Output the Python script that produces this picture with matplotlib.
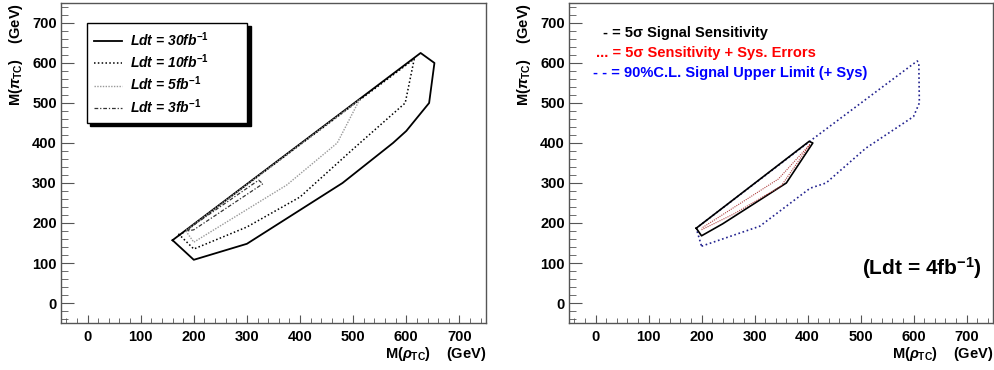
import matplotlib
matplotlib.use('Agg')
import matplotlib.pyplot as plt
from matplotlib.lines import Line2D
from matplotlib.ticker import MultipleLocator

plt.rcParams.update({
    'font.family': ['Liberation Sans', 'DejaVu Sans'],
    'font.weight': 'bold',
    'axes.labelweight': 'bold',
    'mathtext.fontset': 'custom',
    'mathtext.rm': 'Liberation Sans:bold',
    'mathtext.it': 'Liberation Sans:bold:italic',
    'mathtext.bf': 'Liberation Sans:bold',
    'mathtext.sf': 'Liberation Sans:bold',
})

# --- left panel: discovery contours for several luminosities ---
rho_30 = [160, 200, 300, 480, 575, 600, 643, 653, 627, 160]
pi_30 = [157, 108, 148, 300, 400, 430, 500, 600, 625, 157]

rho_10 = [171, 200, 300, 400, 500, 598, 615, 171]
pi_10 = [173, 135, 190, 265, 385, 500, 610, 167]

rho_5 = [185, 200, 375, 470, 512, 185]
pi_5 = [180, 152, 295, 400, 508, 181]

rho_3 = [188, 200, 322, 330, 200, 188]
pi_3 = [180, 195, 307, 298, 183, 180]

lumi_labels = ['Ldt = 30fb$^{-1}$', 'Ldt = 10fb$^{-1}$',
               'Ldt = 5fb$^{-1}$', 'Ldt = 3fb$^{-1}$']

# --- right panel: 4 fb^-1 ---
rho_sig = [190, 200, 240, 360, 410, 403, 190]
pi_sig = [187, 168, 198, 300, 400, 404, 187]

rho_sys = [200, 260, 350, 405, 345, 200]
pi_sys = [183, 222, 292, 397, 310, 187]

rho_ul = [200, 310, 405, 435, 510, 600, 611, 610, 607, 410, 190, 200]
pi_ul = [142, 192, 287, 300, 387, 466, 500, 600, 605, 410, 187, 142]

fig = plt.figure(figsize=(9.95, 3.7), dpi=100)
ax1 = fig.add_axes([0.0613, 0.127, 0.4271, 0.865])
ax2 = fig.add_axes([0.5719, 0.127, 0.4261, 0.865])


def style_axes(ax):
    ax.set_xlim(-50, 750)
    ax.set_ylim(-50, 750)
    ax.xaxis.set_major_locator(MultipleLocator(100))
    ax.xaxis.set_minor_locator(MultipleLocator(20))
    ax.yaxis.set_major_locator(MultipleLocator(100))
    ax.yaxis.set_minor_locator(MultipleLocator(20))
    for s in ax.spines.values():
        s.set_color('#555555')
        s.set_linewidth(1.0)
    ax.tick_params(axis='both', which='both', direction='in', top=False, right=False,
                   color='#555555', labelsize=10.5)
    ax.tick_params(axis='x', which='major', length=6, pad=5)
    ax.tick_params(axis='x', which='minor', length=3.5)
    ax.tick_params(axis='y', which='major', length=9, pad=3)
    ax.tick_params(axis='y', which='minor', length=5)
    for lab in ax.get_xticklabels() + ax.get_yticklabels():
        lab.set_fontweight('bold')
    ax.set_xlabel(r'M($\rho_{\rm TC}$)    (GeV)', loc='right', fontsize=10.5, labelpad=1)
    ax.set_ylabel(r'M($\pi_{\rm TC}$)    (GeV)', loc='top', fontsize=10.5, labelpad=5)


style_axes(ax1)
ax1.plot(rho_30, pi_30, color='black', lw=1.3, ls='-')
ax1.plot(rho_10, pi_10, color='black', lw=1.1, ls=(0, (1, 1.5)))
ax1.plot(rho_5, pi_5, color='#999999', lw=1.0, ls=(0, (1, 1)))
ax1.plot(rho_3, pi_3, color='#333333', lw=0.9, ls=(0, (3, 1.5, 1, 1.5)))

handles = [
    Line2D([], [], color='black', lw=1.3, ls='-'),
    Line2D([], [], color='black', lw=1.1, ls=(0, (1, 1.5))),
    Line2D([], [], color='#999999', lw=1.0, ls=(0, (1, 1))),
    Line2D([], [], color='#333333', lw=0.9, ls=(0, (3, 1.5, 1, 1.5))),
]
leg = ax1.legend(handles, lumi_labels, loc='upper left',
                 bbox_to_anchor=(0.061, 0.6, 0.377, 0.3375), mode='expand',
                 frameon=True, fancybox=False, edgecolor='black', framealpha=1,
                 shadow={'ox': 2.5, 'oy': -2.5, 'color': 'black', 'alpha': 1.0},
                 prop={'size': 10, 'weight': 'bold', 'style': 'italic'},
                 handlelength=2.0, handletextpad=0.6, labelspacing=0.28,
                 borderpad=0.5, borderaxespad=0)
leg.get_frame().set_linewidth(1.0)

style_axes(ax2)
ax2.plot(rho_ul, pi_ul, color='#22228f', lw=1.2, ls=(0, (1, 1.6)))
ax2.plot(rho_sig, pi_sig, color='black', lw=1.2, ls='-')
ax2.plot(rho_sys, pi_sys, color='#b04040', lw=0.8, ls=(0, (1, 1)))

ax2.text(0.08, 0.905, '- = 5σ Signal Sensitivity', transform=ax2.transAxes,
         color='black', fontsize=10.5, fontweight='bold', va='center', ha='left')
ax2.text(0.063, 0.843, '... = 5σ Sensitivity + Sys. Errors', transform=ax2.transAxes,
         color='red', fontsize=10.5, fontweight='bold', va='center', ha='left')
ax2.text(0.056, 0.781, '- - = 90%C.L. Signal Upper Limit (+ Sys)', transform=ax2.transAxes,
         color='blue', fontsize=10.5, fontweight='bold', va='center', ha='left')
ax2.text(0.975, 0.172, '(Ldt = 4fb$^{-1}$)', transform=ax2.transAxes,
         color='black', fontsize=15, fontweight='bold', va='center', ha='right')

fig.savefig('out.png', dpi=100)
